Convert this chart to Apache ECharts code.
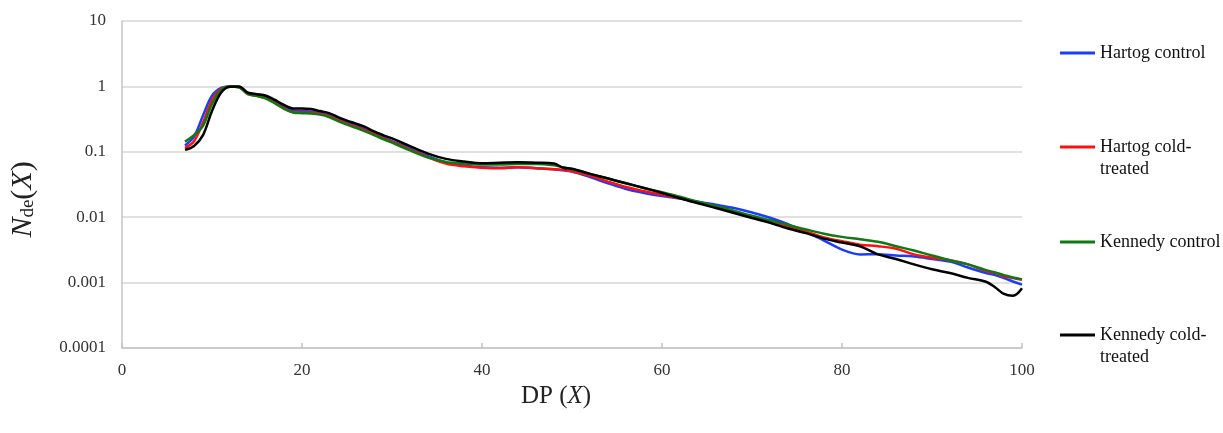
<!DOCTYPE html>
<html>
<head>
<meta charset="utf-8">
<script src="https://cdn.jsdelivr.net/npm/echarts@6/dist/echarts.min.js"></script>
<style>
html,body{margin:0;padding:0;background:#fff;}
#chart{width:1223px;height:433px;}
</style>
</head>
<body>
<div id="chart"></div>
<script>
// Degree of polymerisation (x values)
const dp = [7,8,9,10,11,12,13,14,15,16,17,18,19,20,21,22,23,24,25,26,27,28,29,30,
  32,34,36,38,40,42,44,46,48,49,50,52,54,56,58,60,62,64,66,68,70,72,74,76,78,80,
  82,84,86,88,90,92,94,96,97,98,99,100];

const hartogControl = [0.125,0.17,0.36,0.72,0.95,1.0,0.97,0.79,0.75,0.69,0.59,0.49,0.43,0.42,0.415,0.395,0.36,0.315,0.28,0.25,0.22,0.193,0.168,0.146,
  0.112,0.086,0.069,0.062,0.058,0.057,0.058,0.056,0.054,0.052,0.05,0.041,0.033,0.027,0.0235,0.021,0.0193,0.0172,0.0155,0.0138,0.0118,0.0098,0.0078,0.0059,0.0044,0.0032,
  0.0027,0.00272,0.0026,0.0025,0.0023,0.0021,0.0017,0.0014,0.0013,0.00117,0.00104,0.00093];

const hartogCold = [0.115,0.145,0.28,0.62,0.91,1.0,0.98,0.76,0.72,0.66,0.56,0.465,0.405,0.4,0.395,0.38,0.35,0.305,0.27,0.24,0.212,0.186,0.162,0.142,
  0.108,0.083,0.066,0.06,0.057,0.056,0.058,0.056,0.054,0.053,0.05,0.043,0.035,0.029,0.025,0.022,0.0195,0.0168,0.0145,0.0122,0.0102,0.0085,0.0071,0.006,0.0049,0.0043,
  0.0038,0.0036,0.0033,0.0027,0.0024,0.0022,0.0019,0.0015,0.0014,0.00125,0.00117,0.0011];

const kennedyControl = [0.143,0.18,0.25,0.54,0.88,1.0,0.97,0.76,0.71,0.65,0.55,0.455,0.4,0.39,0.385,0.37,0.34,0.295,0.26,0.232,0.205,0.18,0.157,0.138,
  0.105,0.082,0.07,0.066,0.064,0.064,0.065,0.065,0.062,0.058,0.054,0.046,0.039,0.033,0.028,0.024,0.0205,0.0172,0.0148,0.0125,0.0105,0.009,0.0076,0.0065,0.0056,0.005,
  0.0046,0.0042,0.0036,0.0031,0.0026,0.0022,0.0019,0.00155,0.00143,0.0013,0.0012,0.00112];

const kennedyCold = [0.107,0.123,0.18,0.42,0.8,0.99,1.0,0.8,0.76,0.72,0.62,0.52,0.46,0.46,0.45,0.42,0.39,0.34,0.3,0.27,0.24,0.205,0.18,0.16,
  0.122,0.094,0.078,0.071,0.067,0.068,0.069,0.068,0.066,0.057,0.055,0.046,0.039,0.033,0.028,0.0235,0.0195,0.0163,0.0138,0.0116,0.0097,0.0082,0.0067,0.0057,0.0047,0.0041,
  0.0036,0.0027,0.0023,0.0019,0.0016,0.0014,0.00118,0.00103,0.00085,0.00067,0.00063,0.00082];

const seriesNames = ['Hartog control','Hartog cold-treated','Kennedy control','Kennedy cold-treated'];
const seriesColors = ['#1a3cff','#ff1010','#127812','#000000'];
const yTickLabels = ['0.0001','0.001','0.01','0.1','1','10'];
const xTicks = [0,20,40,60,80,100];

const FONT = '"Liberation Serif", "Times New Roman", serif';
const allData = [hartogControl, hartogCold, kennedyControl, kennedyCold];

const chart = echarts.init(document.getElementById('chart'), null, {renderer:'canvas'});

const legendTops = [42, 114, 231, 302];
// two-line entries get a blank leading line so the sample line sits beside the first text line
const legendLabels = ['Hartog control','\u00a0\nHartog cold-\ntreated','Kennedy control','\u00a0\nKennedy cold-\ntreated'];

const option = {
  animation: false,
  backgroundColor: '#ffffff',
  grid: {left: 122, right: 201, top: 21, bottom: 85, containLabel: false},
  xAxis: {
    type: 'value', min: 0, max: 100, interval: 20,
    name: '{n|DP (}{i|X}{n|)}',
    nameLocation: 'middle', nameGap: 34,
    nameTextStyle: {
      padding: [0, 32, 0, 0],
      rich: {
        n: {fontFamily: FONT, fontSize: 25, color: '#222', lineHeight: 26},
        i: {fontFamily: FONT, fontSize: 25, fontStyle: 'italic', color: '#222', lineHeight: 26}
      }
    },
    axisLine: {show: true, lineStyle: {color: '#c4c4c4', width: 1.5}},
    axisTick: {show: true, inside: true, length: 5, lineStyle: {color: '#c4c4c4', width: 1.5}},
    splitLine: {show: false},
    axisLabel: {fontFamily: FONT, fontSize: 17, color: '#333', margin: 14,
      formatter: v => xTicks.indexOf(v) >= 0 ? String(v) : ''}
  },
  yAxis: {
    type: 'log', logBase: 10, min: 0.0001, max: 10,
    name: '{i|N}{s|de}{n|(}{i|X}{n|)}',
    nameLocation: 'middle', nameGap: 84,
    nameTextStyle: {
      padding: [0, 30, 0, 0],
      rich: {
        n: {fontFamily: FONT, fontSize: 30, color: '#222', lineHeight: 30},
        i: {fontFamily: FONT, fontSize: 30, fontStyle: 'italic', color: '#222', lineHeight: 30},
        s: {fontFamily: FONT, fontSize: 19, color: '#222', lineHeight: 19, verticalAlign: 'bottom'}
      }
    },
    axisLine: {show: true, lineStyle: {color: '#c4c4c4', width: 1.5}},
    axisTick: {show: false},
    splitLine: {show: true, lineStyle: {color: '#d6d6d6', width: 1.5}},
    axisLabel: {fontFamily: FONT, fontSize: 17, color: '#333', margin: 16,
      formatter: v => yTickLabels[Math.round(Math.log10(v)) + 4]}
  },
  legend: seriesNames.map((name, i) => ({
    data: [name],
    orient: 'vertical',
    left: 1060, top: legendTops[i],
    padding: 0,
    itemWidth: 35, itemHeight: 3, itemGap: 0,
    icon: 'rect',
    formatter: () => legendLabels[i],
    textStyle: {fontFamily: FONT, fontSize: 18, color: '#111', lineHeight: 22}
  })),
  series: seriesNames.map((name, i) => ({
    name: name,
    type: 'line',
    smooth: 0.35,
    symbol: 'none',
    data: dp.map((x, k) => [x, allData[i][k]]),
    lineStyle: {color: seriesColors[i], width: 2.5},
    itemStyle: {color: seriesColors[i]},
    z: 2 + i
  }))
};
chart.setOption(option);
</script>
</body>
</html>
